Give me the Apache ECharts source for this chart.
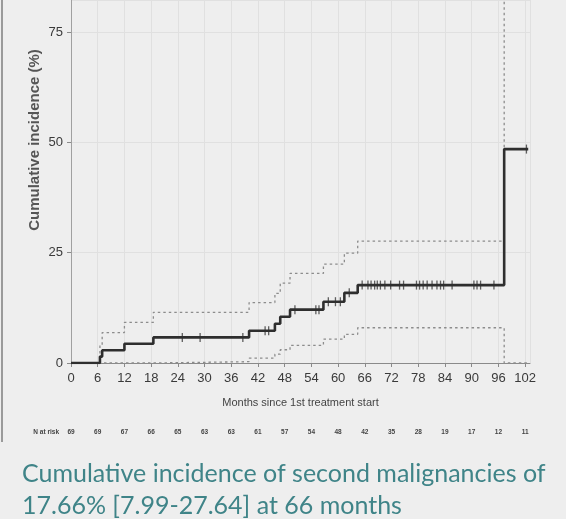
<!DOCTYPE html>
<html>
<head>
<meta charset="utf-8">
<script src="https://cdn.jsdelivr.net/npm/echarts@6/dist/echarts.min.js"></script>
<style>
  html, body { margin: 0; padding: 0; background: #eeeeee; }
  #chart { width: 566px; height: 519px; }
</style>
</head>
<body>
<div id="chart"></div>
<script>
// months where the estimate (or its CI) changes
const stepTimes = [0, 6.5, 7, 12, 18.5, 40, 45.8, 47, 49.2, 56.7, 61.4, 64.4, 97.3, 102.7]
const incidence = [0, 1.45, 2.9, 4.35, 5.8, 7.3, 8.9, 10.5, 12.1, 13.9, 15.9, 17.66, 48.5, 48.5]
const upperCI = [0, 4.0, 6.9, 9.2, 11.5, 13.7, 15.8, 18.1, 20.3, 22.4, 24.9, 27.64, 100, 100]
const lowerCI = [0, 0, 0, 0, 0.3, 1.1, 2.0, 3.0, 4.0, 5.4, 6.5, 7.99, 0, 0]

const censorTimes = [25, 29, 38.6, 43.6, 44.4, 50.3, 55, 55.7, 57.8, 59.4, 60.5, 62.5,
  65.4, 66.7, 67.4, 68.2, 68.8, 69.5, 70.5, 71.8, 73.8, 74.7, 77.6, 78.3, 79.1, 80.0,
  81.1, 82.2, 83.0, 83.7, 85.6, 90.5, 91.2, 92.0, 95.0, 102.3]

const monthTicks = [0, 6, 12, 18, 24, 30, 36, 42, 48, 54, 60, 66, 72, 78, 84, 90, 96, 102]
const atRisk = [69, 69, 67, 66, 65, 63, 63, 61, 57, 54, 48, 42, 35, 28, 19, 17, 12, 11]

const axisFont = '"Liberation Sans", Arial, sans-serif'

const pairs = (xs, ys) => xs.map((x, i) => [x, ys[i]])
const levelAt = t => {
  let v = 0
  stepTimes.forEach((s, i) => { if (s <= t) v = incidence[i] })
  return v
}

const chart = echarts.init(document.getElementById('chart'))

const option = {
  backgroundColor: '#eeeeee',
  animation: false,
  title: {
    left: 17,
    top: 453,
    text: 'Cumulative incidence of second malignancies of\n17.66% [7.99-27.64] at 66 months',
    textStyle: {
      fontFamily: 'Lato',
      fontSize: 25,
      fontWeight: 'normal',
      lineHeight: 32,
      color: '#3f8488'
    }
  },
  grid: { left: 71, right: 36, top: 0, bottom: 156 },
  xAxis: [{
    type: 'value',
    min: 0,
    max: 103.1,
    interval: 6,
    offset: 4,
    name: 'Months since 1st treatment start',
    nameLocation: 'middle',
    nameGap: 30,
    nameTextStyle: { fontFamily: axisFont, fontSize: 11, color: '#444' },
    axisLine: { lineStyle: { color: '#8a8a8a' } },
    axisTick: { length: 4, lineStyle: { color: '#8a8a8a' } },
    axisLabel: {
      margin: 5,
      fontFamily: axisFont,
      fontSize: 13,
      color: '#3a3a3a',
      showMaxLabel: false
    },
    splitLine: { lineStyle: { color: '#e0e0e0' } }
  }, {
    type: 'value',
    position: 'bottom',
    min: 0,
    max: 103.1,
    interval: 6,
    offset: 69,
    axisLine: { show: false },
    axisTick: { show: false },
    splitLine: { show: false },
    axisLabel: {
      margin: 0,
      verticalAlign: 'middle',
      fontFamily: axisFont,
      fontSize: 6.5,
      fontWeight: 'bold',
      color: '#444',
      showMaxLabel: false,
      formatter: v => {
        const i = monthTicks.indexOf(v)
        return i >= 0 ? String(atRisk[i]) : ''
      }
    }
  }],
  yAxis: [{
    type: 'value',
    min: 0,
    max: 82.3,
    interval: 25,
    offset: 4,
    axisLine: { show: true, lineStyle: { color: '#8a8a8a' } },
    axisTick: { show: true, length: 4, lineStyle: { color: '#8a8a8a' } },
    axisLabel: {
      margin: 4,
      fontFamily: axisFont,
      fontSize: 13,
      color: '#3a3a3a',
      showMaxLabel: false
    },
    splitLine: { lineStyle: { color: '#e0e0e0' } }
  }, {
    type: 'value',
    position: 'right',
    min: 0,
    max: 82.3,
    axisLine: { show: true, lineStyle: { color: '#a0a0a0' } },
    axisTick: { show: false },
    axisLabel: { show: false },
    splitLine: { show: false }
  }],
  graphic: [{
    type: 'text',
    x: 35,
    y: 140,
    rotation: Math.PI / 2,
    style: {
      text: 'Cumulative incidence (%)',
      textAlign: 'center',
      textVerticalAlign: 'middle',
      fontFamily: axisFont,
      fontWeight: 'bold',
      fontSize: 15,
      fill: '#555'
    }
  }, {
    type: 'text',
    x: 59,
    y: 432,
    style: {
      text: 'N at risk',
      textAlign: 'right',
      textVerticalAlign: 'middle',
      fontFamily: axisFont,
      fontSize: 6.5,
      fontWeight: 'bold',
      fill: '#444'
    }
  }, {
    type: 'line',
    shape: { x1: 2, y1: 0, x2: 2, y2: 442 },
    style: { stroke: '#9a9a9a', lineWidth: 2 }
  }],
  series: [
    {
      name: 'upper',
      type: 'line',
      step: 'end',
      symbol: 'none',
      data: pairs(stepTimes, upperCI),
      lineStyle: { color: '#8c8c8c', width: 1.3, type: [2.5, 3] }
    },
    {
      name: 'lower',
      type: 'line',
      step: 'end',
      symbol: 'none',
      data: pairs(stepTimes, lowerCI),
      lineStyle: { color: '#8c8c8c', width: 1.3, type: [2.5, 3] }
    },
    {
      name: 'incidence',
      type: 'line',
      step: 'end',
      symbol: 'none',
      data: pairs(stepTimes, incidence),
      lineStyle: { color: '#2e2e2e', width: 2.6 }
    },
    {
      name: 'censored',
      type: 'scatter',
      symbol: 'rect',
      symbolSize: [1.3, 9],
      itemStyle: { color: '#3a3a3a' },
      data: censorTimes.map(t => [t, levelAt(t)])
    }
  ]
}

chart.setOption(option)
</script>
</body>
</html>
